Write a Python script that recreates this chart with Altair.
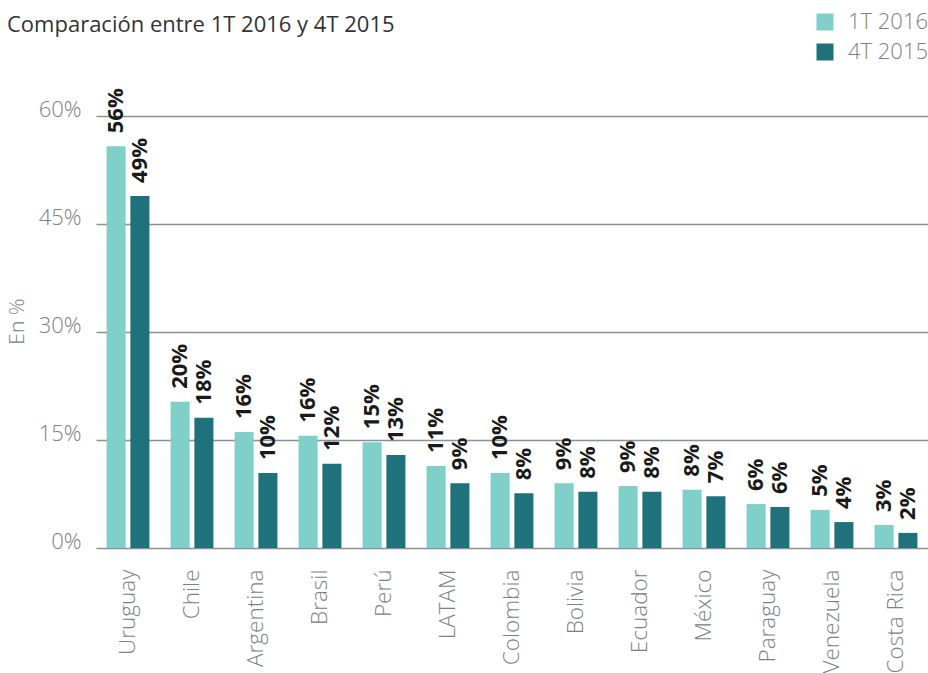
import altair as alt
import pandas as pd

countries = ["Uruguay", "Chile", "Argentina", "Brasil", "Perú", "LATAM", "Colombia",
             "Bolivia", "Ecuador", "México", "Paraguay", "Venezuela", "Costa Rica"]
series = ["1T 2016", "4T 2015"]
values_2016 = [55.8, 20.3, 16.1, 15.6, 14.7, 11.4, 10.4, 9.0, 8.6, 8.1, 6.1, 5.3, 3.2]
values_2015 = [48.9, 18.1, 10.4, 11.7, 12.9, 9.0, 7.6, 7.8, 7.8, 7.2, 5.7, 3.6, 2.1]
labels_2016 = ["56%", "20%", "16%", "16%", "15%", "11%", "10%", "9%", "9%", "8%", "6%", "5%", "3%"]
labels_2015 = ["49%", "18%", "10%", "12%", "13%", "9%", "8%", "8%", "8%", "7%", "6%", "4%", "2%"]
y_ticks = [0, 15, 30, 45, 60]
colors = ["#80cfc9", "#1f717b"]

rows = []
for i, c in enumerate(countries):
    rows.append({"country": c, "serie": series[0], "value": values_2016[i], "label": labels_2016[i]})
    rows.append({"country": c, "serie": series[1], "value": values_2015[i], "label": labels_2015[i]})
df = pd.DataFrame(rows)

FONT = "Open Sans"
GRAY = "#7b8089"

base = alt.Chart(df).encode(
    x=alt.X("country:N", sort=countries,
            scale=alt.Scale(paddingInner=0.33, paddingOuter=0.165),
            axis=alt.Axis(title=None, labelAngle=-90, labelAlign="right", labelBaseline="middle",
                          labelPadding=21, ticks=False, domain=False, labelFont=FONT,
                          labelFontSize=22.5, labelFontWeight=300, labelColor=GRAY)),
    xOffset=alt.XOffset("serie:N", sort=series, scale=alt.Scale(paddingInner=0.2)),
)

bars = base.mark_bar().encode(
    y=alt.Y("value:Q", scale=alt.Scale(domain=[0, 60], nice=False),
            axis=alt.Axis(title="En %", values=y_ticks, labelExpr="datum.value + '%'",
                          ticks=False, domain=False, grid=True, gridColor="#8b8f96",
                          gridWidth=1.5, labelFont=FONT, labelFontSize=22, labelFontWeight=300,
                          labelColor=GRAY, labelBaseline="alphabetic", labelPadding=15,
                          labelFlush=False,
                          titleFont=FONT, titleFontSize=21, titleFontWeight=300,
                          titleColor=GRAY, titleAngle=270, titleX=-79, titleY=205,
                          titleAlign="center", titleBaseline="middle")),
    color=alt.Color("serie:N", sort=series,
                    scale=alt.Scale(domain=series, range=colors),
                    legend=alt.Legend(title=None, orient="none", legendX=718, legendY=-105,
                                      symbolType="square", symbolSize=289, symbolStrokeWidth=0,
                                      labelFont=FONT, labelFontSize=22, labelFontWeight=300,
                                      labelColor=GRAY, labelOffset=12, rowPadding=8, padding=0)),
)

text = base.mark_text(angle=270, align="left", baseline="middle", dx=13, font=FONT,
                      fontWeight="bold", fontSize=22, color="#1a1a1a").encode(
    y="value:Q", text="label:N")

chart = alt.layer(bars, text).properties(
    width=832, height=432,
    title=alt.Title("Comparación entre 1T 2016 y 4T 2015", anchor="start", frame="group",
                    font=FONT, fontSize=22, fontWeight="normal", color="#333333",
                    dx=-89, dy=43, offset=0, baseline="alphabetic"),
    autosize=alt.AutoSizeParams(type="none"),
    padding={"left": 96, "top": 116, "right": 0, "bottom": 125},
).configure_view(stroke=None)

chart.save("out.html", embed_options={"renderer": "svg", "actions": False})
